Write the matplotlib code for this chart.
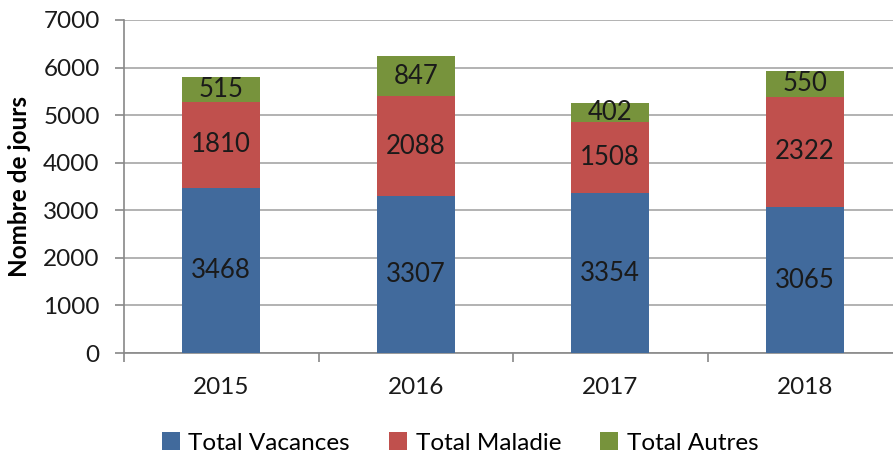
import numpy as np
import matplotlib
matplotlib.use("Agg")
import matplotlib.pyplot as plt

years = ["2015", "2016", "2017", "2018"]
vacances = [3468, 3307, 3354, 3065]
maladie = [1810, 2088, 1508, 2322]
autres = [515, 847, 402, 550]

series = [
    ("Total Vacances", vacances, "#416A9C"),
    ("Total Maladie", maladie, "#C0504D"),
    ("Total Autres", autres, "#77933C"),
]

plt.rcParams["font.family"] = ["Lato", "DejaVu Sans"]
fs = 17.5

fig = plt.figure(figsize=(8.93, 4.59), dpi=100)
ax = fig.add_axes([124 / 893, 1 - 353 / 459, 778 / 893, 333 / 459])

x = np.arange(len(years))
bottom = np.zeros(len(years))
for name, vals, color in series:
    vals = np.array(vals)
    ax.bar(x, vals, 0.4, bottom=bottom, color=color, label=name, zorder=3)
    for xi, b, v in zip(x, bottom, vals):
        ax.text(xi, b + v / 2, str(v), ha="center", va="center",
                fontsize=18.5, color="#1a1a1a", zorder=4)
    bottom += vals

ax.set_xlim(-0.5, 3.5)
ax.set_ylim(0, 7000)
ax.set_yticks(range(0, 7001, 1000))
ax.grid(axis="y", color="#a6a6a6", lw=1.2, zorder=0)
ax.set_xticks(x)
ax.set_xticklabels(years)
ax.set_xticks(np.arange(-0.5, 4, 1), minor=True)
ax.tick_params(axis="x", which="major", length=0, pad=17, labelsize=fs, labelcolor="#1a1a1a")
ax.tick_params(axis="x", which="minor", length=6.5, width=1.2, color="#888888")
ax.tick_params(axis="y", length=6.5, width=1.2, color="#888888", labelsize=fs,
               labelcolor="#1a1a1a", pad=11)

for s in ["top", "right"]:
    ax.spines[s].set_visible(False)
ax.spines["left"].set_color("#888888")
ax.spines["left"].set_linewidth(1.2)
ax.spines["bottom"].set_color("#888888")
ax.spines["bottom"].set_linewidth(1.2)

ax.set_ylabel("Nombre de jours", fontsize=17.5, fontweight="bold")
ax.yaxis.set_label_coords(-93 / 778, 0.5)

handles, labels = ax.get_legend_handles_labels()
fig.legend(handles, labels, loc="center", bbox_to_anchor=(460 / 893, 1 - 443 / 459),
           ncol=3, frameon=False, fontsize=fs, handlelength=0.75, handleheight=0.75,
           handletextpad=0.35, columnspacing=1.6)

fig.savefig("out.png", dpi=100)
